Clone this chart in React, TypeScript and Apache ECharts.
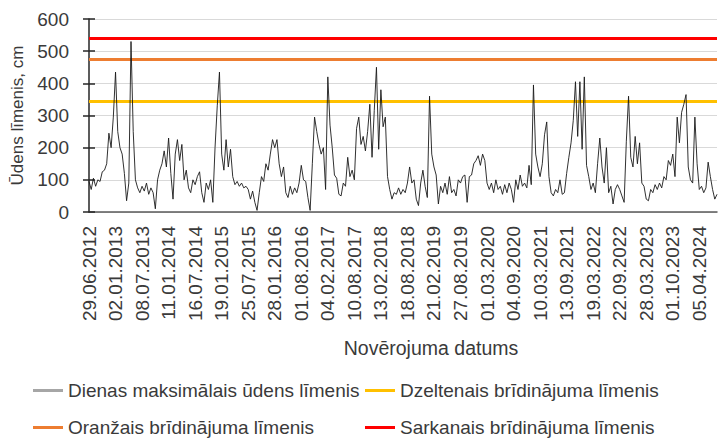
import React, { useEffect, useRef } from "react";
import * as echarts from "echarts";

const labelDates = [
  "29.06.2012", "02.01.2013", "08.07.2013", "11.01.2014", "16.07.2014", "19.01.2015",
  "25.07.2015", "28.01.2016", "01.08.2016", "04.02.2017", "10.08.2017", "13.02.2018",
  "18.08.2018", "21.02.2019", "27.08.2019", "01.03.2020", "04.09.2020", "10.03.2021",
  "13.09.2021", "19.03.2022", "22.09.2022", "28.03.2023", "01.10.2023", "05.04.2024",
];

// points per labelled interval
const PER = 12;

// daily maximum water level (cm), sampled ~every 15.6 days
const levels = [
  95, 70, 105, 80, 100, 95, 125, 130, 150, 245, 200, 295,
  435, 250, 200, 180, 120, 35, 90, 530, 250, 100, 75, 60,
  80, 65, 90, 55, 75, 60, 10, 100, 130, 150, 190, 140,
  230, 120, 40, 180, 225, 160, 210, 100, 130, 75, 60, 100,
  85, 110, 125, 60, 30, 90, 70, 100, 30, 200, 330, 435,
  180, 130, 225, 140, 195, 110, 85, 95, 80, 90, 75, 80,
  70, 40, 65, 30, 5, 60, 110, 95, 150, 130, 180, 225,
  200, 225, 150, 110, 140, 60, 45, 80, 55, 75, 60, 90,
  145, 100, 95, 45, 5, 150, 295, 250, 210, 180, 200, 70,
  420, 270, 200, 115, 105, 55, 50, 90, 80, 170, 110, 130,
  100, 260, 295, 210, 235, 190, 250, 335, 170, 315, 450, 195,
  380, 265, 295, 110, 70, 40, 60, 55, 75, 55, 70, 60,
  90, 140, 90, 100, 40, 20, 90, 130, 80, 45, 360, 180,
  140, 115, 25, 80, 60, 90, 55, 110, 60, 70, 50, 100,
  90, 110, 115, 30, 110, 115, 150, 160, 175, 145, 180, 160,
  90, 70, 90, 60, 100, 70, 80, 55, 85, 60, 90, 70,
  30, 100, 70, 115, 80, 90, 75, 145, 85, 395, 180, 140,
  110, 150, 240, 280, 110, 60, 50, 70, 60, 100, 55, 60,
  120, 170, 215, 285, 405, 235, 405, 195, 420, 145, 110, 70,
  90, 60, 150, 230, 140, 90, 200, 60, 80, 25, 70, 85,
  70, 50, 30, 220, 360, 170, 140, 235, 150, 215, 90, 80,
  40, 35, 70, 60, 85, 70, 90, 75, 110, 100, 160, 145,
  180, 110, 295, 215, 310, 335, 365, 140, 100, 90, 295, 150,
  70, 80, 60, 75, 155, 110, 70, 40, 55,
];

const yellowLevel = 345;
const orangeLevel = 475;
const redLevel = 540;

const seriesNames = [
  "Dienas maksimālais ūdens līmenis",
  "Dzeltenais brīdinājuma līmenis",
  "Oranžais brīdinājuma līmenis",
  "Sarkanais brīdinājuma līmenis",
];

const DAY = 86400000;
function parseDate(s: string) {
  const [d, m, y] = s.split(".").map(Number);
  return Date.UTC(y, m - 1, d);
}
function fmtDate(t: number) {
  const d = new Date(t);
  const dd = String(d.getUTCDate()).padStart(2, "0");
  const mm = String(d.getUTCMonth() + 1).padStart(2, "0");
  return `${dd}.${mm}.${d.getUTCFullYear()}`;
}

const categories = levels.map((_, i) => {
  const j = Math.floor(i / PER);
  const k = i % PER;
  if (k === 0 && j < labelDates.length) return labelDates[j];
  const a = parseDate(labelDates[j]);
  const span = j < labelDates.length - 1 ? parseDate(labelDates[j + 1]) - a : 187 * DAY;
  return fmtDate(a + Math.round((k * span) / PER / DAY) * DAY);
});

const FONT = "Liberation Sans";
const TXT = "#3a3a3a";

export default function App() {
  const ref = useRef<HTMLDivElement>(null);
  useEffect(() => {
    if (!ref.current) return;
    const chart = echarts.init(ref.current, null, { renderer: "svg" });
    const legendBase = {
      icon: "rect",
      itemWidth: 30,
      itemHeight: 3,
      padding: 0,
      selectedMode: false,
      textStyle: { fontSize: 19, color: TXT, fontFamily: FONT },
    };
    const thr = (name: string, value: number, color: string) => ({
      name,
      type: "line",
      data: [],
      color,
      itemStyle: { color },
      lineStyle: { color, width: 3 },
      markLine: {
        silent: true,
        symbol: "none",
        label: { show: false },
        lineStyle: { color, width: 3, type: "solid" },
        data: [{ yAxis: value }],
        z: 1,
      },
    });
    chart.setOption({
      animation: false,
      backgroundColor: "#ffffff",
      grid: { left: 89, right: 1, top: 19, bottom: 226 },
      legend: [
        { ...legendBase, left: 33, top: 381, data: [{ name: seriesNames[0], itemStyle: { color: "#a6a6a6" } }] },
        { ...legendBase, left: 365, top: 381, data: [seriesNames[1]] },
        { ...legendBase, left: 33, top: 418, data: [seriesNames[2]] },
        { ...legendBase, left: 365, top: 418, data: [seriesNames[3]] },
      ],
      xAxis: {
        type: "category",
        data: categories,
        boundaryGap: false,
        axisLine: { lineStyle: { color: "#595959", width: 1.5 } },
        axisTick: { show: false },
        axisLabel: {
          interval: PER - 1,
          rotate: 90,
          fontSize: 19,
          color: TXT,
          fontFamily: FONT,
          margin: 14,
        },
        name: "Novērojuma datums",
        nameLocation: "middle",
        nameGap: 126,
        nameTextStyle: { fontSize: 19.5, color: TXT, fontFamily: FONT, padding: [0, 0, 0, 56] },
      },
      yAxis: [
        {
          type: "value",
          min: 0,
          max: 600,
          interval: 100,
          axisLine: { show: true, lineStyle: { color: "#262626", width: 1.5 } },
          axisTick: { show: true, length: 6, lineStyle: { color: "#262626", width: 1.5 } },
          splitLine: { show: true, lineStyle: { color: "#d9d9d9", width: 1 } },
          axisLabel: { fontSize: 19, color: TXT, fontFamily: FONT, margin: 20 },
          name: "Ūdens līmenis, cm",
          nameLocation: "middle",
          nameRotate: 90,
          nameGap: 62,
          nameTextStyle: { fontSize: 17, color: TXT, fontFamily: FONT },
        },
        {
          type: "value",
          min: 0,
          max: 600,
          interval: 100,
          position: "left",
          axisLine: { show: false },
          axisTick: { show: true, inside: true, length: 6, lineStyle: { color: "#262626", width: 1.5 } },
          splitLine: { show: false },
          axisLabel: { show: false },
        },
      ],
      series: [
        {
          name: seriesNames[0],
          type: "line",
          data: levels,
          showSymbol: false,
          symbol: "none",
          color: "#a6a6a6",
          lineStyle: { color: "#1a1a1a", width: 0.9 },
          z: 5,
        },
        thr(seriesNames[1], yellowLevel, "#ffc000"),
        thr(seriesNames[2], orangeLevel, "#ed7d31"),
        thr(seriesNames[3], redLevel, "#ff0000"),
      ],
    });
    return () => chart.dispose();
  }, []);
  return (
    <div
      ref={ref}
      style={{ position: "fixed", left: 0, top: 0, width: 718, height: 438, background: "#fff" }}
    />
  );
}
